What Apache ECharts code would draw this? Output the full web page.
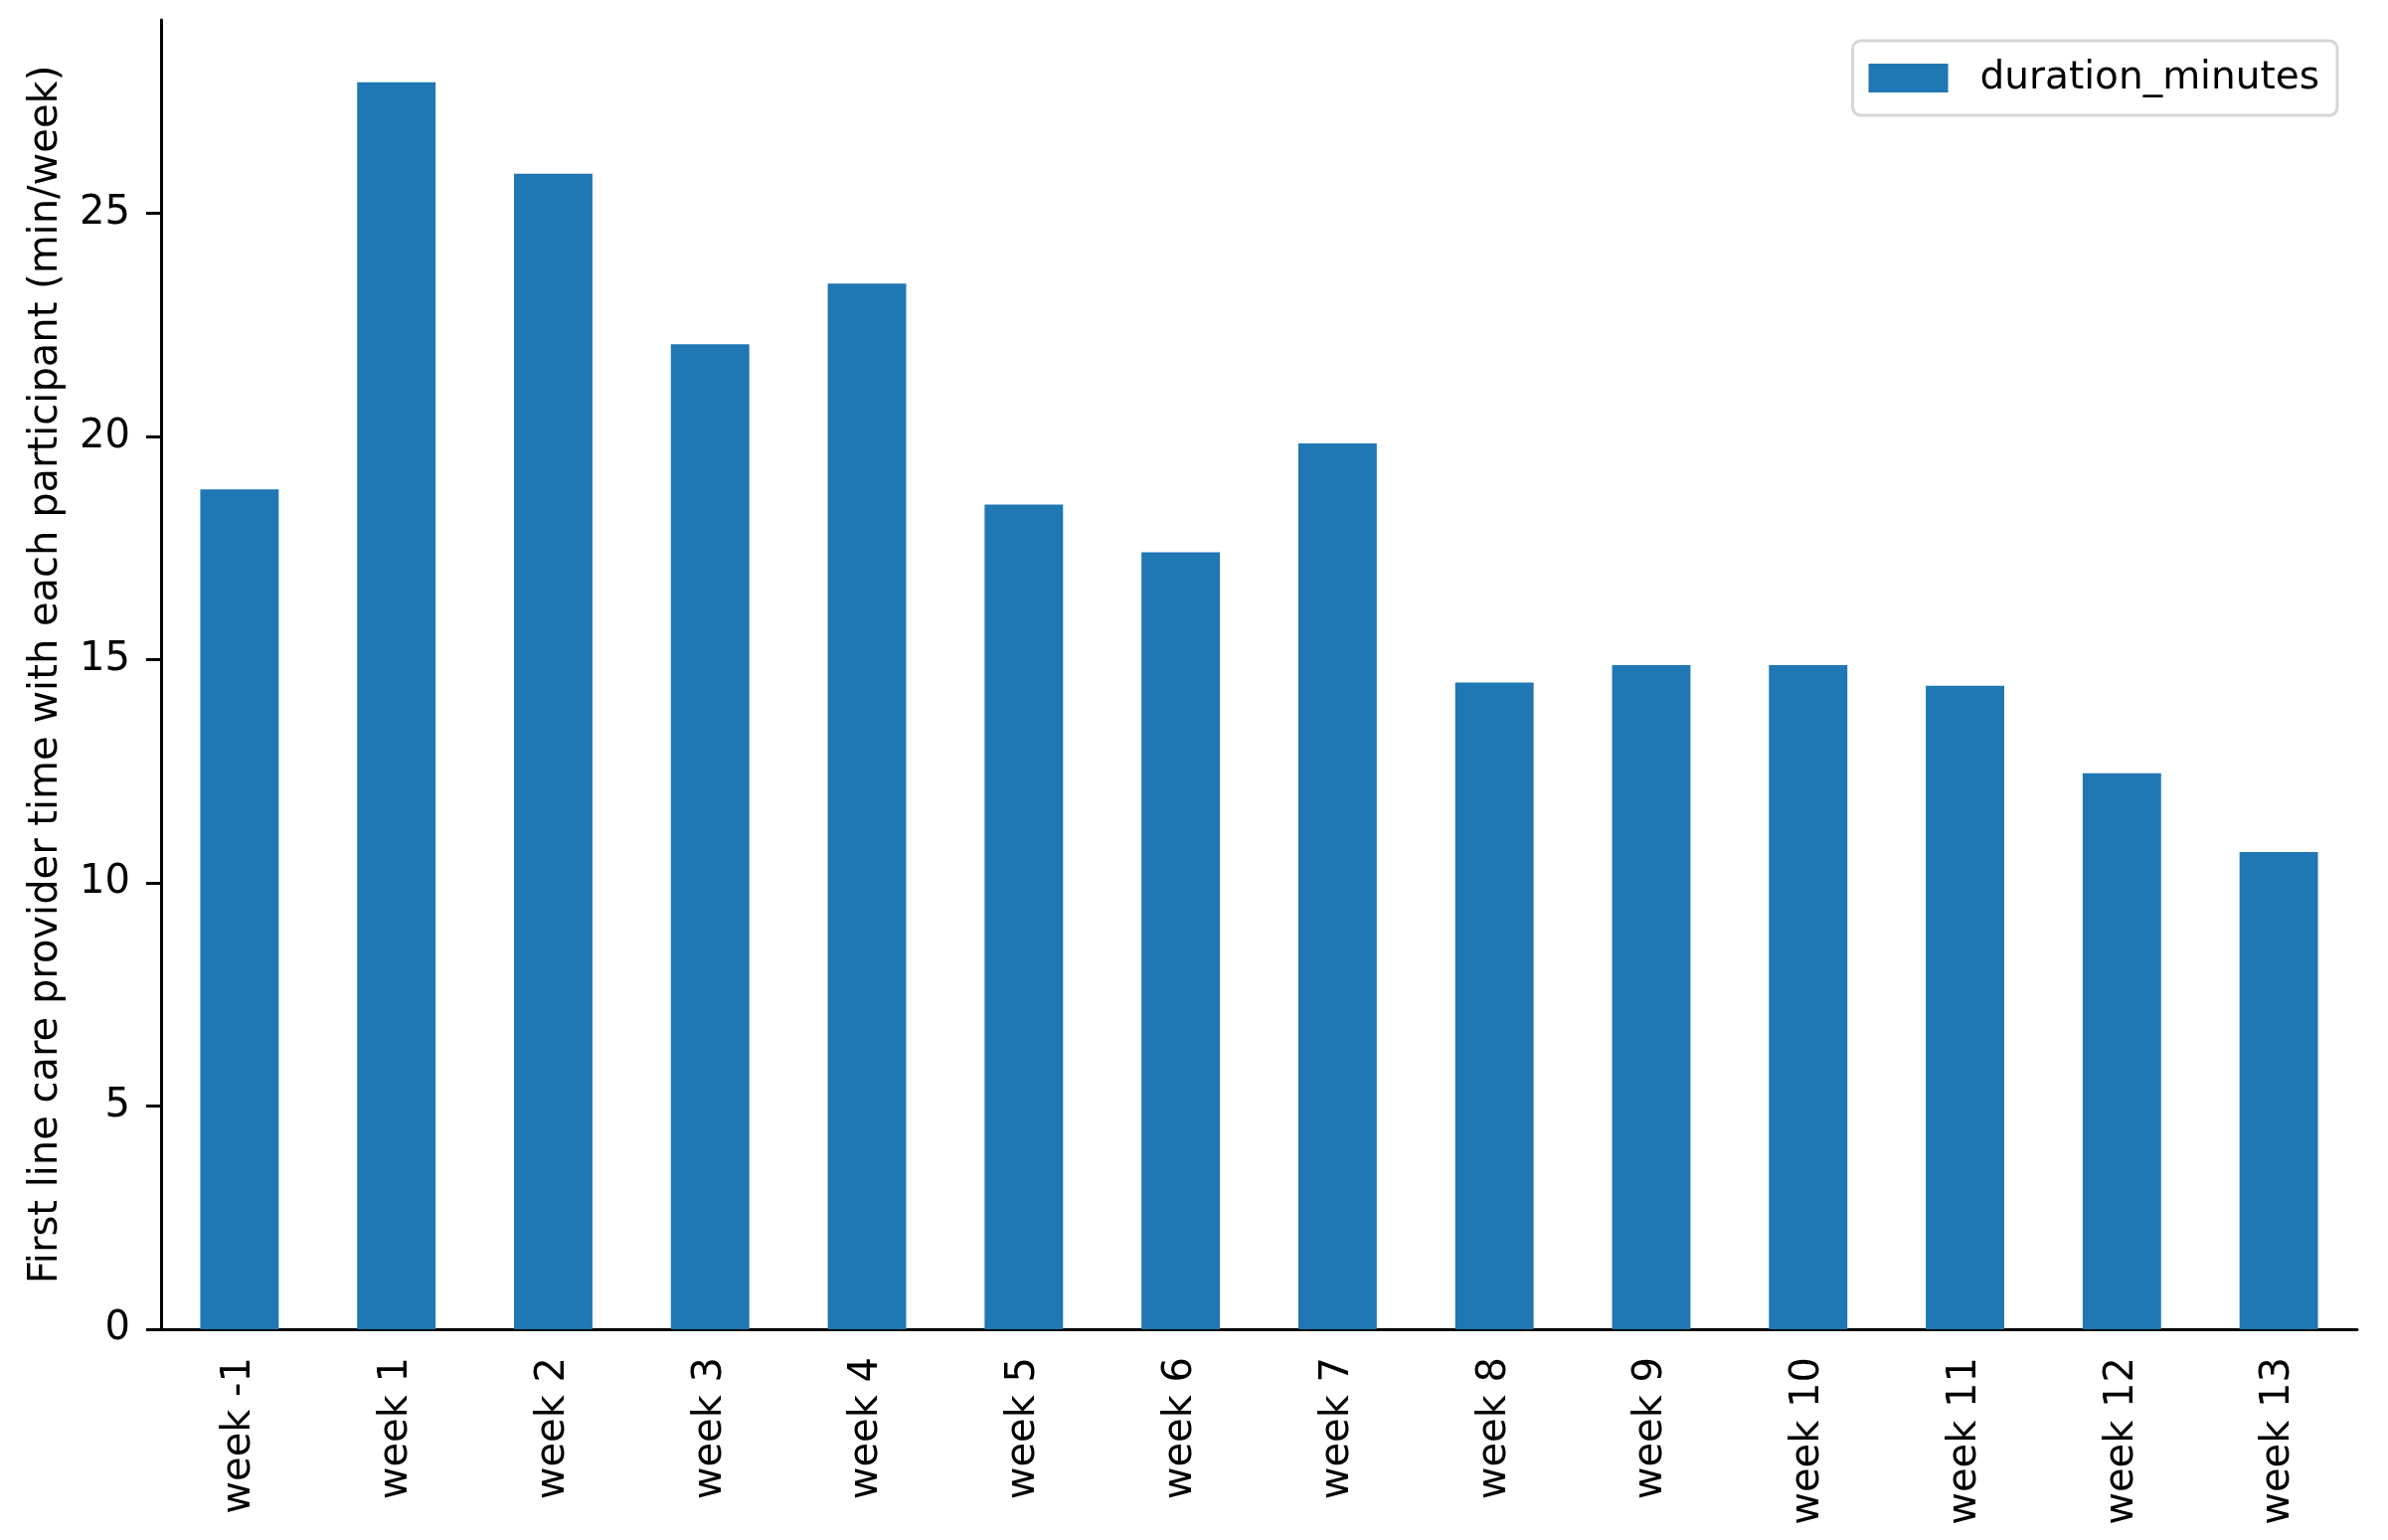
<!DOCTYPE html>
<html>
<head>
<meta charset="utf-8">
<title>duration_minutes</title>
<script src="https://cdn.jsdelivr.net/npm/echarts@6/dist/echarts.min.js"></script>
<style>
  html, body { margin: 0; padding: 0; background: #fff; }
  #chart { width: 2402px; height: 1549px; }
</style>
</head>
<body>
<div id="chart"></div>
<script>
// data
const weeks = ['week -1', 'week 1', 'week 2', 'week 3', 'week 4', 'week 5', 'week 6',
  'week 7', 'week 8', 'week 9', 'week 10', 'week 11', 'week 12', 'week 13'];
const durationMinutes = [18.82, 27.94, 25.89, 22.07, 23.43, 18.48, 17.41,
  19.85, 14.49, 14.88, 14.88, 14.42, 12.46, 10.69];
const yTicks = [0, 5, 10, 15, 20, 25];

const font = 'DejaVu Sans';
const chart = echarts.init(document.getElementById('chart'));

chart.setOption({
  animation: false,
  backgroundColor: '#fff',
  textStyle: { fontFamily: font },
  grid: { left: 162, right: 31, top: 20, bottom: 212, containLabel: false },
  legend: {
    data: ['duration_minutes'],
    right: 51,
    top: 41,
    icon: 'rect',
    itemWidth: 80,
    itemHeight: 29,
    padding: [18, 18, 18, 16],
    borderColor: '#d6d6d6',
    borderWidth: 3,
    borderRadius: 8,
    backgroundColor: '#fff',
    textStyle: { fontFamily: font, fontSize: 39, color: '#000', padding: [0, 0, 0, 27], lineHeight: 29 }
  },
  xAxis: {
    type: 'category',
    data: weeks,
    axisLine: { lineStyle: { color: '#000', width: 3 } },
    axisTick: { alignWithLabel: true, length: 14, lineStyle: { color: '#000', width: 3 } },
    axisLabel: { rotate: 90, margin: 28, fontFamily: font, fontSize: 40, color: '#000', interval: 0 }
  },
  yAxis: {
    type: 'value',
    min: 0,
    max: Math.max(...durationMinutes) * 1.05,
    name: 'First line care provider time with each participant (min/week)',
    nameLocation: 'middle',
    nameGap: 95,
    nameTextStyle: { fontFamily: font, fontSize: 40, color: '#000' },
    splitLine: { show: false },
    axisLine: { show: true, lineStyle: { color: '#000', width: 3 } },
    axisTick: { show: true, length: 15, customValues: yTicks, lineStyle: { color: '#000', width: 3 } },
    axisLabel: { margin: 31, customValues: yTicks, fontFamily: font, fontSize: 40, color: '#000' }
  },
  series: [{
    name: 'duration_minutes',
    type: 'bar',
    data: durationMinutes,
    barWidth: '50%',
    itemStyle: { color: '#1f77b4' }
  }]
});
</script>
</body>
</html>
